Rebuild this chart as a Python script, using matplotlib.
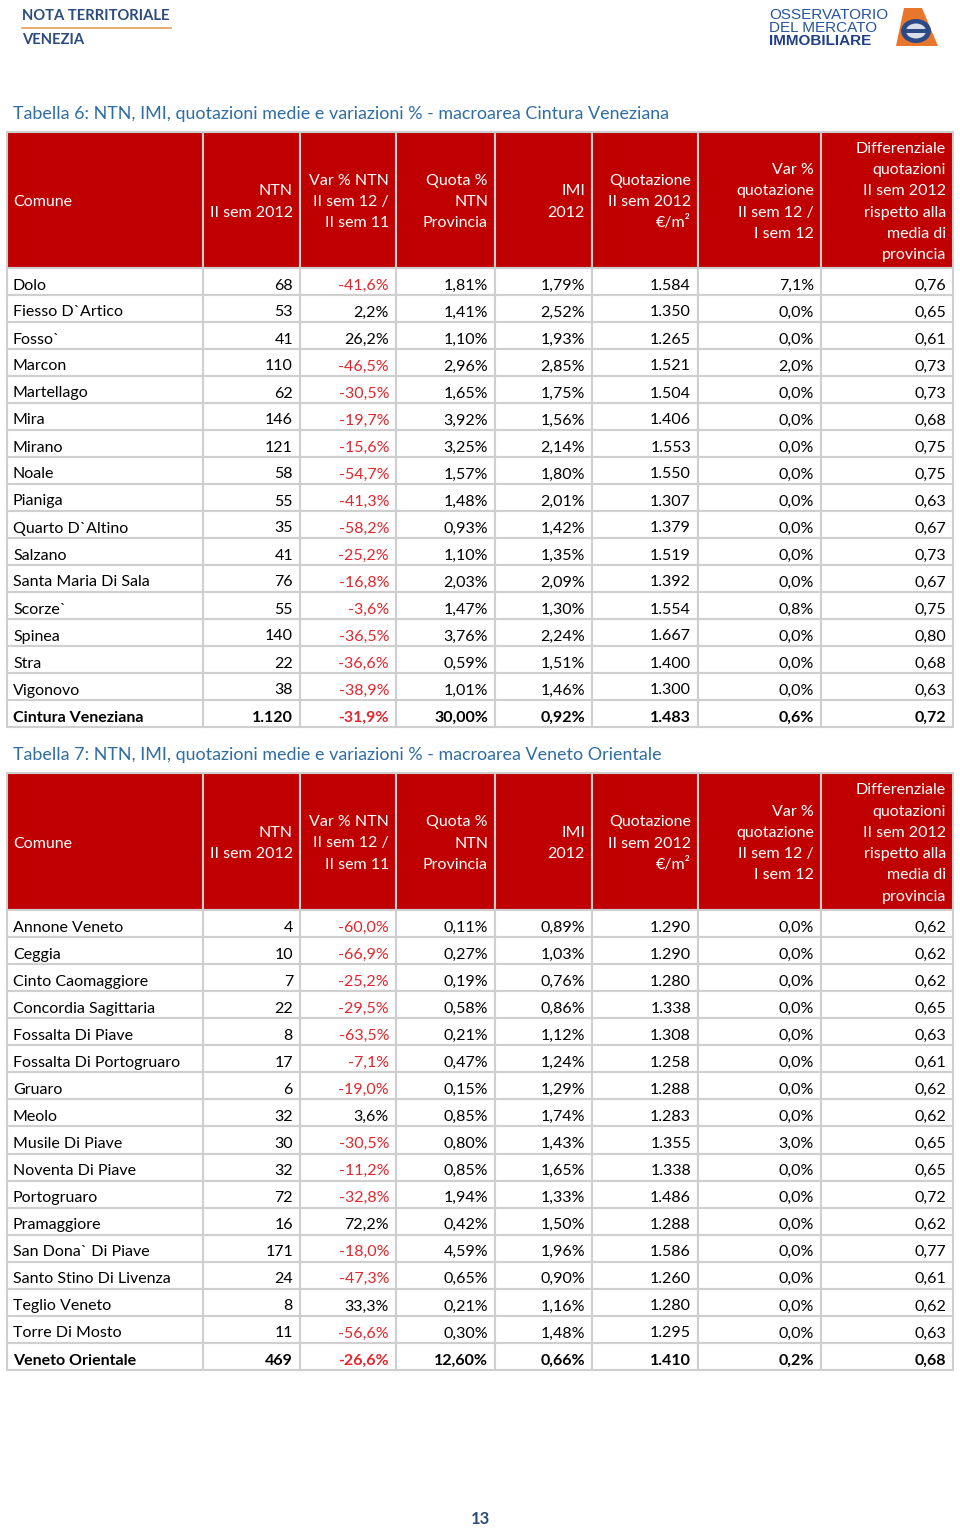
import matplotlib
matplotlib.use("Agg")
import matplotlib.pyplot as plt
from matplotlib.patches import Rectangle, Polygon, Ellipse

plt.rcParams['font.family'] = ['Lato', 'DejaVu Sans']

# ---- data: Tabella 6 (Cintura Veneziana)
comuni6 = ["Dolo", "Fiesso D`Artico", "Fosso`", "Marcon", "Martellago", "Mira", "Mirano",
           "Noale", "Pianiga", "Quarto D`Altino", "Salzano", "Santa Maria Di Sala",
           "Scorze`", "Spinea", "Stra", "Vigonovo", "Cintura Veneziana"]
ntn6 = [68, 53, 41, 110, 62, 146, 121, 58, 55, 35, 41, 76, 55, 140, 22, 38, 1120]
var_ntn6 = [-41.6, 2.2, 26.2, -46.5, -30.5, -19.7, -15.6, -54.7, -41.3, -58.2, -25.2,
            -16.8, -3.6, -36.5, -36.6, -38.9, -31.9]
quota6 = [1.81, 1.41, 1.10, 2.96, 1.65, 3.92, 3.25, 1.57, 1.48, 0.93, 1.10, 2.03, 1.47,
          3.76, 0.59, 1.01, 30.00]
imi6 = [1.79, 2.52, 1.93, 2.85, 1.75, 1.56, 2.14, 1.80, 2.01, 1.42, 1.35, 2.09, 1.30,
        2.24, 1.51, 1.46, 0.92]
quot6 = [1584, 1350, 1265, 1521, 1504, 1406, 1553, 1550, 1307, 1379, 1519, 1392, 1554,
         1667, 1400, 1300, 1483]
var_quot6 = [7.1, 0.0, 0.0, 2.0, 0.0, 0.0, 0.0, 0.0, 0.0, 0.0, 0.0, 0.0, 0.8, 0.0, 0.0, 0.0, 0.6]
diff6 = [0.76, 0.65, 0.61, 0.73, 0.73, 0.68, 0.75, 0.75, 0.63, 0.67, 0.73, 0.67, 0.75,
         0.80, 0.68, 0.63, 0.72]

# ---- data: Tabella 7 (Veneto Orientale)
comuni7 = ["Annone Veneto", "Ceggia", "Cinto Caomaggiore", "Concordia Sagittaria",
           "Fossalta Di Piave", "Fossalta Di Portogruaro", "Gruaro", "Meolo",
           "Musile Di Piave", "Noventa Di Piave", "Portogruaro", "Pramaggiore",
           "San Dona` Di Piave", "Santo Stino Di Livenza", "Teglio Veneto",
           "Torre Di Mosto", "Veneto Orientale"]
ntn7 = [4, 10, 7, 22, 8, 17, 6, 32, 30, 32, 72, 16, 171, 24, 8, 11, 469]
var_ntn7 = [-60.0, -66.9, -25.2, -29.5, -63.5, -7.1, -19.0, 3.6, -30.5, -11.2, -32.8,
            72.2, -18.0, -47.3, 33.3, -56.6, -26.6]
quota7 = [0.11, 0.27, 0.19, 0.58, 0.21, 0.47, 0.15, 0.85, 0.80, 0.85, 1.94, 0.42, 4.59,
          0.65, 0.21, 0.30, 12.60]
imi7 = [0.89, 1.03, 0.76, 0.86, 1.12, 1.24, 1.29, 1.74, 1.43, 1.65, 1.33, 1.50, 1.96,
        0.90, 1.16, 1.48, 0.66]
quot7 = [1290, 1290, 1280, 1338, 1308, 1258, 1288, 1283, 1355, 1338, 1486, 1288, 1586,
         1260, 1280, 1295, 1410]
var_quot7 = [0.0, 0.0, 0.0, 0.0, 0.0, 0.0, 0.0, 0.0, 3.0, 0.0, 0.0, 0.0, 0.0, 0.0, 0.0, 0.0, 0.2]
diff7 = [0.62, 0.62, 0.62, 0.65, 0.63, 0.61, 0.62, 0.62, 0.65, 0.65, 0.72, 0.62, 0.77,
         0.61, 0.62, 0.63, 0.68]

header = [["Comune"], ["NTN", "II sem 2012"], ["Var % NTN", "II sem 12 /", "II sem 11"],
          ["Quota %", "NTN", "Provincia"], ["IMI", "2012"],
          ["Quotazione", "II sem 2012", "€/m²"],
          ["Var %", "quotazione", "II sem 12 /", "I sem 12"],
          ["Differenziale", "quotazioni", "II sem 2012", "rispetto alla", "media di", "provincia"]]

RED = '#C00000'
NEG = '#E3262B'
GRID = '#CFCFCF'
BLUE = '#2F6DA3'
col_x = [7, 203, 300, 396, 495, 592, 698, 821, 953]
FS = 11.5


def it_num(v, dec):
    s = f"{v:,.{dec}f}"
    return s.replace(",", "X").replace(".", ",").replace("X", ".")


def draw_table(ax, top, hbot, rowh, comuni, ntn, var_ntn, quota, imi, quot, var_quot, diff):
    # header
    for c in range(8):
        ax.add_patch(Rectangle((col_x[c], top), col_x[c + 1] - col_x[c], hbot - top,
                               facecolor=RED, edgecolor=GRID, lw=1.5))
        lines = header[c]
        n = len(lines)
        yc = (top + hbot) / 2
        for i, t in enumerate(lines):
            y = yc + (i - (n - 1) / 2) * 21.2 + 6
            if c == 0:
                ax.text(col_x[c] + 6, y, t, color='white', fontsize=FS, ha='left', va='baseline')
            else:
                ax.text(col_x[c + 1] - 7, y, t, color='white', fontsize=FS, ha='right', va='baseline')
    nrows = len(comuni)
    for r in range(nrows):
        y0 = hbot + r * rowh
        bold = r == nrows - 1
        fw = 'bold' if bold else 'normal'
        vals = [ntn[r], var_ntn[r], quota[r], imi[r], quot[r], var_quot[r], diff[r]]
        texts = [it_num(ntn[r], 0), it_num(var_ntn[r], 1) + "%", it_num(quota[r], 2) + "%",
                 it_num(imi[r], 2) + "%", it_num(quot[r], 0), it_num(var_quot[r], 1) + "%",
                 it_num(diff[r], 2)]
        for c in range(8):
            ax.add_patch(Rectangle((col_x[c], y0), col_x[c + 1] - col_x[c], rowh,
                                   facecolor='white', edgecolor=GRID, lw=1.5))
        yb = y0 + rowh - 5.5
        ax.text(col_x[0] + 6, yb, comuni[r], fontsize=FS, ha='left', va='baseline',
                color='black', fontweight=fw)
        for c in range(7):
            col = NEG if (c == 1 and vals[1] < 0) else 'black'
            ax.text(col_x[c + 2] - 7, yb, texts[c], fontsize=FS, ha='right', va='baseline',
                    color=col, fontweight=fw)


fig = plt.figure(figsize=(9.6, 15.32), dpi=100)
ax = fig.add_axes([0, 0, 1, 1])
ax.set_xlim(0, 960)
ax.set_ylim(1532, 0)
ax.axis('off')

# page header
ax.text(22, 16, "NOTA TERRITORIALE", fontsize=10.6, fontweight='bold', color='#2B4C7E',
        ha='left', va='center')
ax.plot([22, 171], [28, 28], color='#E3A05A', lw=1.2)
ax.text(22, 40, "VENEZIA", fontsize=10.6, fontweight='bold', color='#2B4C7E',
        ha='left', va='center')

# logo
logo_font = ['Liberation Sans Narrow', 'Liberation Sans', 'DejaVu Sans']
ax.text(769, 15, "OSSERVATORIO", fontsize=11, color='#2453A0', family=logo_font,
        ha='left', va='center')
ax.text(769, 28, "DEL MERCATO", fontsize=11, color='#2453A0', family=logo_font,
        ha='left', va='center')
ax.text(769, 41, "IMMOBILIARE", fontsize=11, color='#1F3F86', family=logo_font,
        fontweight='bold', ha='left', va='center')
ax.add_patch(Polygon([[904, 8], [922, 8], [938, 46], [896, 46]], closed=True,
                     facecolor='#E8772E', edgecolor='none'))
ax.add_patch(Ellipse((916, 31), 30, 24, facecolor='#2C4A86', edgecolor='none'))
ax.add_patch(Ellipse((916, 31), 20, 15, facecolor='#D8DEE8', edgecolor='none'))
ax.add_patch(Rectangle((904, 29), 24, 4, facecolor='#2C4A86', edgecolor='none'))

# tables
ax.text(13, 114, "Tabella 6: NTN, IMI, quotazioni medie e variazioni % - macroarea Cintura Veneziana",
        fontsize=12.9, color=BLUE, ha='left', va='center')
draw_table(ax, 132, 268, 27, comuni6, ntn6, var_ntn6, quota6, imi6, quot6, var_quot6, diff6)

ax.text(13, 755, "Tabella 7: NTN, IMI, quotazioni medie e variazioni % - macroarea Veneto Orientale",
        fontsize=12.9, color=BLUE, ha='left', va='center')
draw_table(ax, 773, 910, 27.06, comuni7, ntn7, var_ntn7, quota7, imi7, quot7, var_quot7, diff7)

ax.text(480, 1519, "13", fontsize=12, fontweight='bold', color='#2B4C7E', ha='center', va='center')

fig.savefig("out.png", dpi=100)
